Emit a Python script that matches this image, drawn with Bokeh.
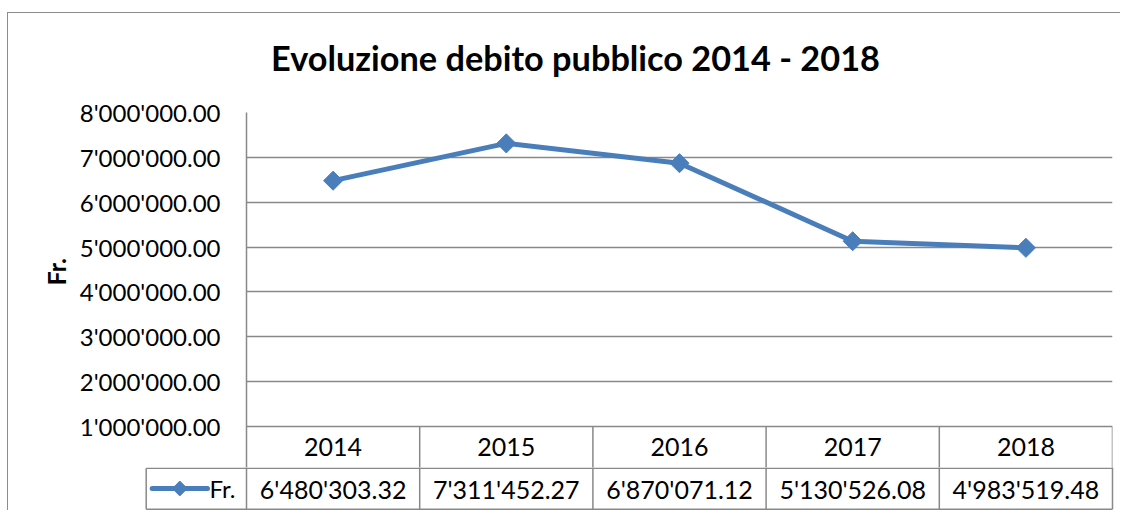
import numpy as np
from bokeh.plotting import figure
from bokeh.layouts import column
from bokeh.models import (FactorRange, Range1d, FixedTicker, CustomJSTickFormatter,
                          ColumnDataSource)
from bokeh.core.properties import value
from bokeh.embed import file_html
from bokeh.resources import INLINE

# ---------------- data ----------------
years = ["2014", "2015", "2016", "2017", "2018"]
debt = [6480303.32, 7311452.27, 6870071.12, 5130526.08, 4983519.48]
series_name = "Fr."
title_text = "Evoluzione debito pubblico 2014 - 2018"
y_ticks = [1e6, 2e6, 3e6, 4e6, 5e6, 6e6, 7e6, 8e6]

# ---------------- style ----------------
FONT = "Lato"
BLUE = "#4a7ebb"
GRID = "#898989"
TXT = "#000000"


def fmt(v):
    return f"{v:,.2f}".replace(",", "'")


# ---------------- layout constants (page pixels) ----------------
ORIGIN_X = 8
ORIGIN_Y = 13             # top of the first canvas on the page
TITLE_BOT = 83            # page y where the title canvas ends
TITLE_CX, TITLE_MID = 575, 56.7
FRAME_TOP = 112           # page y of the 8M line
SPLIT = 467               # page y where the chart canvas ends (row separator)
PAGE_BOT = 510
PX_PER_UNIT = 44.86 / 1e6  # vertical pixels per franc
ROW_BOT = 508.7
YEAR_ROW_MID = 446.5
VAL_ROW_MID = 488.0
PLOT_LEFT, PLOT_RIGHT = 246, 1112
LEG_LEFT_PX = 145.7


def py(page_y):
    """page y pixel -> data y of the chart"""
    return y_ticks[-1] - (page_y - FRAME_TOP) / PX_PER_UNIT


W = 1112
n = len(years)


def bare(fig):
    fig.outline_line_color = None
    fig.background_fill_color = "white"
    fig.border_fill_color = "white"
    return fig


# ---------------- title ----------------
TH0 = TITLE_BOT - ORIGIN_Y
c = bare(figure(width=W, height=TH0, x_range=Range1d(0, W), y_range=Range1d(TH0, 0),
                x_axis_location=None, y_axis_location=None, frame_align=False,
                output_backend="svg", toolbar_location=None,
                min_border_left=0, min_border_right=0, min_border_top=0,
                min_border_bottom=0))
c.grid.visible = False
c.text(x=[TITLE_CX - ORIGIN_X], y=[TITLE_MID - ORIGIN_Y], text=[title_text],
       text_align="center", text_baseline="middle", text_font=value(FONT),
       text_font_size="34.3px", text_font_style="bold", text_color=TXT)

# ---------------- chart + year row ----------------
p = bare(figure(width=W, height=SPLIT - TITLE_BOT, x_range=FactorRange(factors=years),
                y_range=Range1d(py(SPLIT), y_ticks[-1]),
                x_axis_location=None, output_backend="svg", toolbar_location=None,
                frame_align=False,
                min_border_left=PLOT_LEFT - ORIGIN_X, min_border_right=8,
                min_border_top=FRAME_TOP - TITLE_BOT, min_border_bottom=0))

ax = p.yaxis[0]
ax.ticker = FixedTicker(ticks=y_ticks)
ax.formatter = CustomJSTickFormatter(code="""
const s = tick.toFixed(2);
const parts = s.split('.');
return parts[0].replace(/\\B(?=(\\d{3})+(?!\\d))/g, "'") + '.' + parts[1];
""")
ax.major_tick_out = 0
ax.major_tick_in = 0
ax.minor_tick_out = 0
ax.minor_tick_in = 0
ax.axis_line_color = GRID
ax.axis_line_width = 1.5
ax.major_label_standoff = 26
ax.major_label_text_font = FONT
ax.major_label_text_font_size = "24px"
ax.major_label_text_color = TXT
# leading no-break spaces lift the centred label to the middle of the gridded area
ax.axis_label = "\u00a0" * 6 + series_name
ax.axis_label_text_font = FONT
ax.axis_label_text_font_size = "25px"
ax.axis_label_text_font_style = "bold"
ax.axis_label_text_color = TXT
ax.axis_label_standoff = 6

p.xgrid.visible = False
p.ygrid.ticker = FixedTicker(ticks=y_ticks)
p.ygrid.grid_line_color = GRID
p.ygrid.grid_line_width = 1.5

src = ColumnDataSource(dict(x=years, y=debt))
p.line("x", "y", source=src, line_color=BLUE, line_width=5, line_join="round")
p.scatter("x", "y", source=src, marker="square", angle=np.pi / 4, size=13.5,
          fill_color=BLUE, line_color=BLUE)

# year row of the data table
vx = list(range(1, n + 1))
p.segment(x0=vx, y0=[y_ticks[0]] * n, x1=vx, y1=[py(SPLIT + 5)] * n,
          line_color=GRID, line_width=1.5)
p.text(x=years, y=[py(YEAR_ROW_MID)] * n, text=years, text_align="center",
       text_baseline="middle", text_font=value(FONT), text_font_size="25px",
       text_color=TXT)

# ---------------- value row of the data table ----------------
col_px = (PLOT_RIGHT - PLOT_LEFT) / n
leg_left = -(PLOT_LEFT - LEG_LEFT_PX) / col_px
TH = PAGE_BOT - SPLIT
t = bare(figure(width=W, height=TH,
                x_range=Range1d(-(PLOT_LEFT - 144) / col_px, n + 2 / col_px),
                y_range=Range1d(TH, 0), frame_align=False,
                x_axis_location=None, y_axis_location=None,
                output_backend="svg", toolbar_location=None,
                min_border_left=144 - ORIGIN_X, min_border_right=W - (1114 - ORIGIN_X),
                min_border_top=0, min_border_bottom=0))
t.grid.visible = False

r_top = 0.75
r_bot = ROW_BOT - SPLIT
r_mid = VAL_ROW_MID - SPLIT
t.segment(x0=[leg_left, leg_left], y0=[r_top, r_bot], x1=[n, n], y1=[r_top, r_bot],
          line_color=GRID, line_width=1.5)
vx0 = list(range(0, n + 1))
t.segment(x0=vx0 + [leg_left], y0=[-2] * (n + 1) + [r_top],
          x1=vx0 + [leg_left], y1=[r_bot] * (n + 2),
          line_color=GRID, line_width=1.5)
t.text(x=[i + 0.5 for i in range(n)], y=[r_mid] * n, text=[fmt(v) for v in debt],
       text_align="center", text_baseline="middle", text_font=value(FONT),
       text_font_size="25px", text_color=TXT)

# legend key in the table's first cell
lx0 = (151.7 - PLOT_LEFT) / col_px
lx1 = (207 - PLOT_LEFT) / col_px
lxm = (179.3 - PLOT_LEFT) / col_px
t.line(x=[lx0, lx1], y=[r_mid, r_mid], line_color=BLUE, line_width=5, line_cap="round")
t.scatter(x=[lxm], y=[r_mid], marker="square", angle=np.pi / 4, size=10.5,
          fill_color=BLUE, line_color=BLUE)
t.text(x=[(209 - PLOT_LEFT) / col_px], y=[r_mid], text=[series_name],
       text_align="left", text_baseline="middle", text_font=value(FONT),
       text_font_size="24px", text_color=TXT)

layout = column(c, p, t, margin=(12, 0, 0, 7),
                styles={"border-left": "1px solid #8c8c8c",
                        "border-top": "1px solid #8c8c8c"})

open("out.html", "w").write(file_html(layout, INLINE))
